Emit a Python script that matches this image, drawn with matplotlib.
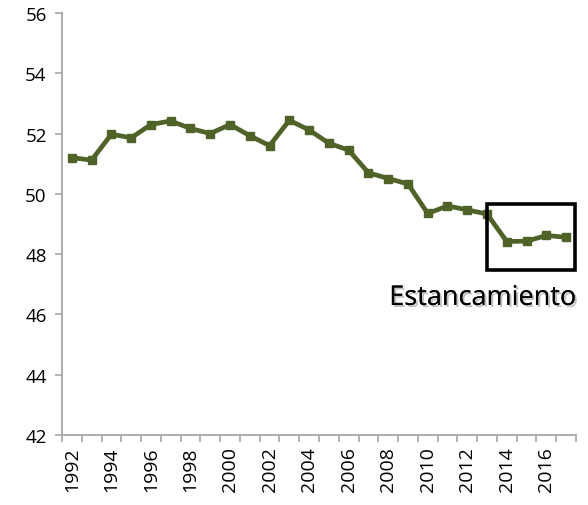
import matplotlib
matplotlib.use("Agg")
import matplotlib.pyplot as plt
import matplotlib.patheffects as pe
from matplotlib.patches import Rectangle
import numpy as np

years = list(range(1992, 2018))
values = [51.2, 51.12, 51.98, 51.86, 52.3, 52.42, 52.17, 52.0, 52.3, 51.93,
          51.6, 52.44, 52.12, 51.68, 51.45, 50.7, 50.51, 50.33, 49.35, 49.6,
          49.47, 49.33, 48.42, 48.43, 48.62, 48.56]
yticks = [42, 44, 46, 48, 50, 52, 54, 56]
label_years = [y for y in years if y % 2 == 0]
annotation = "Estancamiento"

plt.rcParams['font.family'] = ['Open Sans', 'DejaVu Sans']

fig = plt.figure(figsize=(5.88, 5.06), dpi=100)
ax = fig.add_axes([0.1054, 0.1383, 0.8742, 0.834])

x = np.arange(len(years))
ax.plot(x, values, color='#4F6228', lw=3.4, marker='s', ms=5.8,
        markeredgecolor='#4F6228', markerfacecolor='#4F6228', solid_joinstyle='miter')

ax.set_xlim(-0.5, len(years) - 0.5)
ax.set_ylim(42, 56)
ax.set_yticks(yticks)
ax.set_yticklabels([str(v) for v in yticks], fontsize=13.5)

lab_pos = [years.index(y) for y in label_years]
ax.set_xticks(lab_pos)
ax.set_xticklabels([str(y) for y in label_years], rotation=90, fontsize=14)
ax.set_xticks(np.arange(-0.5, len(years)), minor=True)
ax.tick_params(axis='x', which='major', length=0, pad=8)
ax.tick_params(axis='x', which='minor', length=5, width=1.2, color='#A6A6A6', direction='out')
ax.tick_params(axis='y', length=5, width=1.2, color='#A6A6A6', direction='out', pad=6)

for s in ['top', 'right']:
    ax.spines[s].set_visible(False)
for s in ['left', 'bottom']:
    ax.spines[s].set_color('#A6A6A6')
    ax.spines[s].set_linewidth(1.3)

rect = Rectangle((21.0, 47.49), 4.45, 2.16, fill=False, edgecolor='black',
                 lw=2.6, clip_on=False, zorder=5)
ax.add_patch(rect)

t = ax.text(25.55, 46.55, annotation, ha='right', va='center', fontsize=19.5,
            color='black', clip_on=False)
t.set_path_effects([pe.withSimplePatchShadow(offset=(1.5, -1.5), shadow_rgbFace='#999999', alpha=0.6),
                    pe.Normal()])

fig.savefig('out.png', dpi=100)
